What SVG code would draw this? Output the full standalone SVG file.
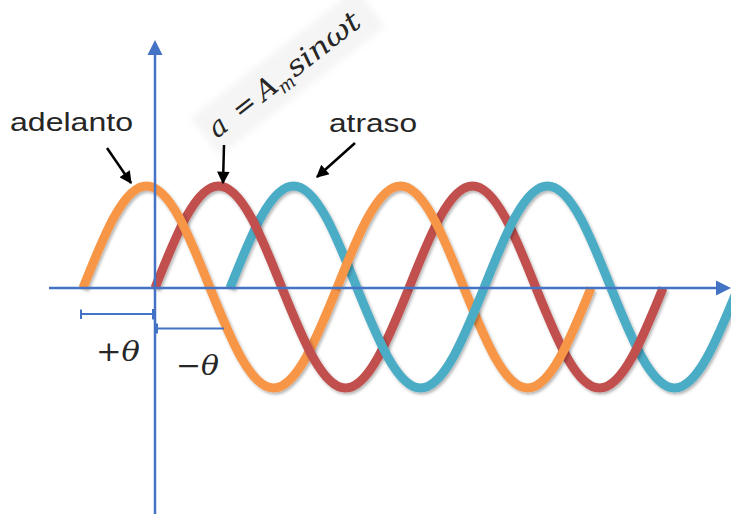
<svg xmlns="http://www.w3.org/2000/svg" width="731" height="514" viewBox="0 0 731 514">
<defs>
  <filter id="shadow" x="-5%" y="-5%" width="110%" height="115%">
    <feDropShadow dx="1.5" dy="2" stdDeviation="1.5" flood-color="#000" flood-opacity="0.3"/>
  </filter>
  <filter id="soft" x="-10%" y="-30%" width="120%" height="160%">
    <feGaussianBlur stdDeviation="3"/>
  </filter>
  <marker id="ah" viewBox="0 0 10 10" refX="9" refY="5" markerWidth="6" markerHeight="5" orient="auto" markerUnits="strokeWidth">
    <path d="M0,0 L10,5 L0,10 z" fill="#000"/>
  </marker>
</defs>
<style>
  .wave { fill: none; stroke-width: 9; stroke-linecap: butt; filter: url(#shadow); }
  .o { stroke: #F79646; }
  .r { stroke: #C0504D; }
  .c { stroke: #4BACC6; }
  .axis { stroke: #4472C4; stroke-width: 2.5; fill: none; }
  .dim { stroke: #4472C4; stroke-width: 2; fill: none; }
  .lbl { font-family: "Liberation Sans", Arial, sans-serif; font-size: 26.5px; fill: #262626; }
  .math { font-family: "DejaVu Serif", "Liberation Serif", serif; fill: #262626; }
  .arrow { stroke: #000; stroke-width: 2.5; fill: none; marker-end: url(#ah); }
</style>

<g id="formula" transform="translate(217,139) rotate(-38)">
  <rect x="-8" y="-33" width="210" height="48" fill="#f5f5f5" filter="url(#soft)"/>
  <text class="math" font-size="28" fill="#333333">
    <tspan x="0" y="0" font-style="italic">a</tspan>
    <tspan x="30" y="0">=</tspan>
    <tspan x="60" y="0" font-style="italic">A</tspan>
    <tspan x="80" y="6" font-size="18" font-style="italic">m</tspan>
    <tspan x="99" y="0" font-style="italic" textLength="86" lengthAdjust="spacingAndGlyphs">sinωt</tspan>
  </text>
</g>

<g id="waves">
  <path id="C1" class="wave c" d="M230,288 c 20.71,-52.25 40.52,-102 63.5,-102 c 22.98,0 42.79,49.75 63.5,102"/>
  <path id="R1" class="wave r" d="M155,288 c 20.71,-52.25 40.52,-102 63.5,-102 c 22.98,0 42.79,49.75 63.5,102"/>
  <path id="O1" class="wave o" d="M83,288 c 20.71,-52.25 40.52,-102 63.5,-102 c 22.98,0 42.79,49.75 63.5,102"/>
  <path id="O2" class="wave o" d="M210,288 c 20.71,51.23 40.52,100 63.5,100 c 22.98,0 42.79,-48.77 63.5,-100"/>
  <path id="R2" class="wave r" d="M282,288 c 20.71,51.23 40.52,100 63.5,100 c 22.98,0 42.79,-48.77 63.5,-100"/>
  <path id="R3" class="wave r" d="M409,288 c 20.71,-52.25 40.52,-102 63.5,-102 c 22.98,0 42.79,49.75 63.5,102"/>
  <path id="O3" class="wave o" d="M337,288 c 20.71,-52.25 40.52,-102 63.5,-102 c 22.98,0 42.79,49.75 63.5,102"/>
  <path id="C3" class="wave c" d="M484,288 c 20.71,-52.25 40.52,-102 63.5,-102 c 22.98,0 42.79,49.75 63.5,102"/>
  <path id="C4" class="wave c" d="M611,288 c 20.71,51.23 40.52,100 63.5,100 c 22.98,0 42.79,-48.77 63.5,-100"/>
  <path id="R4" class="wave r" d="M536,288 c 20.71,51.23 40.52,100 63.5,100 c 22.98,0 42.79,-48.77 63.5,-100"/>
  <path id="O4" class="wave o" d="M464,288 c 20.71,51.23 40.52,100 63.5,100 c 22.98,0 42.79,-48.77 63.5,-100"/>
  <path id="C2" class="wave c" d="M357,288 c 20.71,51.23 40.52,100 63.5,100 c 22.98,0 42.79,-48.77 63.5,-100"/>
</g>

<g id="axes">
  <line class="axis" x1="49" y1="288" x2="718" y2="288"/>
  <polygon points="731,288 716,280.5 716,295.5" fill="#4472C4"/>
  <line class="axis" x1="155" y1="514" x2="155" y2="53"/>
  <polygon points="155,40 147.5,55 162.5,55" fill="#4472C4"/>
</g>

<g id="dims">
  <line class="dim" x1="81" y1="314" x2="154" y2="314"/>
  <line class="dim" x1="81" y1="309.5" x2="81" y2="319"/>
  <line class="dim" x1="153" y1="309" x2="153" y2="319.5" stroke-width="3"/>
  <line class="dim" x1="156" y1="328.5" x2="224" y2="328.5"/>
  <line class="dim" x1="157" y1="323.5" x2="157" y2="333.5" stroke-width="3"/>
  <text class="math" x="96" y="361" font-size="28" textLength="44" lengthAdjust="spacingAndGlyphs">+<tspan font-style="italic">θ</tspan></text>
  <text class="math" x="176" y="375" font-size="28" textLength="43" lengthAdjust="spacingAndGlyphs">−<tspan font-style="italic">θ</tspan></text>
</g>

<g id="label-adelanto">
  <text class="lbl" x="10" y="131" textLength="123" lengthAdjust="spacingAndGlyphs">adelanto</text>
</g>
<g id="label-atraso">
  <text class="lbl" x="329" y="132" textLength="88" lengthAdjust="spacingAndGlyphs">atraso</text>
</g>

<g id="connectors">
  <line class="arrow" x1="107" y1="148" x2="131" y2="183"/>
  <line class="arrow" x1="224" y1="145" x2="223" y2="183"/>
  <line class="arrow" x1="355" y1="143" x2="317" y2="177"/>
</g>
</svg>
